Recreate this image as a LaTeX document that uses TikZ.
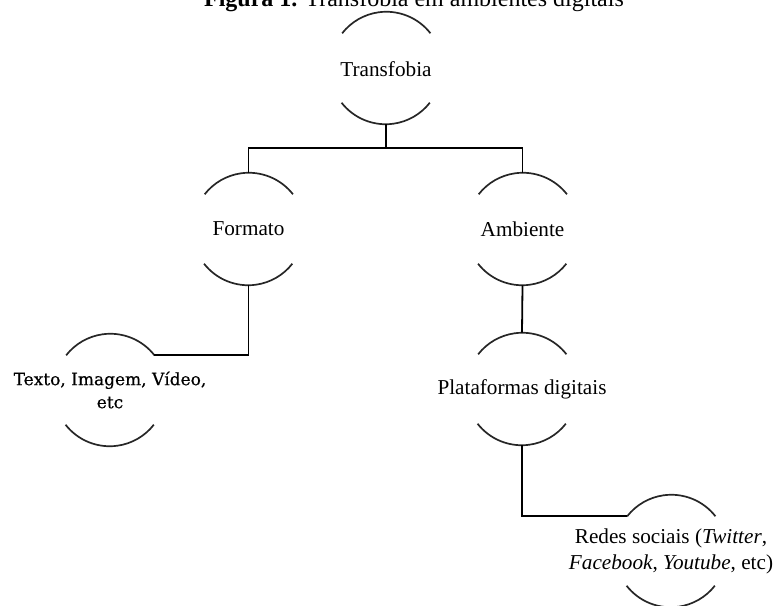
\documentclass[tikz,border=0pt]{standalone}
\usepackage{fontspec}
\setmainfont{Liberation Serif}
\newfontfamily\cambriaish[FakeBold=0.6]{DejaVu Serif}
\begin{document}
\begin{tikzpicture}[x=0.5pt,y=-0.5pt,
  ring/.style={circle,minimum size=56pt,inner sep=0pt},
  lbl/.style={font=\fontsize{10.6}{13}\selectfont,align=center,inner sep=0pt},
  arcline/.style={draw=black!85,line width=0.85pt},
  conn/.style={draw=black,line width=0.9pt}]
\useasboundingbox (0,0) rectangle (775,605);
\node[anchor=base,font=\fontsize{12}{14}\selectfont,inner sep=0pt] (title) at (414,6) {\textbf{Figura 1.} Transfobia em ambientes digitais};
\node[ring] (tr) at (386,68) {};
\node[ring] (fo) at (248.5,229) {};
\node[ring] (am) at (522.5,229) {};
\node[ring] (tx) at (110,390) {};
\node[ring] (pl) at (522,389) {};
\node[ring] (rs) at (671,551) {};
\node[lbl] (trl) at (386,69) {Transfobia};
\node[lbl] (fol) at (248.5,229) {Formato};
\node[lbl] (aml) at (522.5,229) {Ambiente};
\node[lbl,font=\cambriaish\fontsize{8.5}{11.5}\selectfont] (txl) at (110,390) {Texto, Imagem, Vídeo,\\etc};
\node[lbl] (pll) at (522,389) {Plataformas digitais};
\node[lbl] (rsl) at (671,551) {Redes sociais (\textit{Twitter},\\\textit{Facebook}, \textit{Youtube}, etc)};
\foreach \n in {tr,fo,am,tx,pl,rs}{
  \draw[arcline] (\n.38) arc[start angle=38,end angle=142,radius=28pt];
  \draw[arcline] (\n.218) arc[start angle=218,end angle=322,radius=28pt];
}
\coordinate (j) at (386,148);
\draw[conn] (tr.south) -- (j);
\draw[conn] (fo.north) |- (j) -| (am.north);
\draw[conn] (fo.south) |- (tx.38);
\draw[conn] (am.south) -- (pl.north);
\draw[conn] (pl.south) |- (rs.142);
\end{tikzpicture}
\end{document}
